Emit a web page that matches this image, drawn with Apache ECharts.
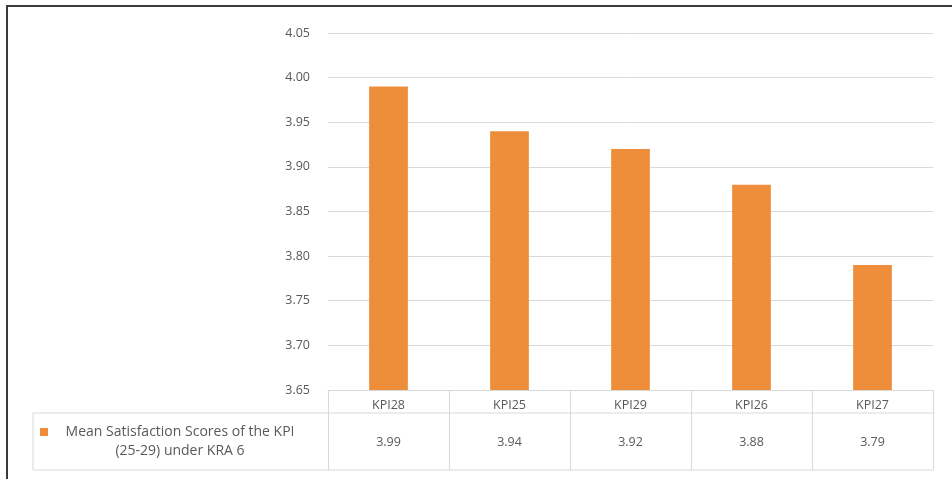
<!DOCTYPE html>
<html>
<head>
<meta charset="utf-8">
<script src="https://cdn.jsdelivr.net/npm/echarts@6/dist/echarts.min.js"></script>
<style>
  html, body { margin: 0; padding: 0; background: #fff; }
  #chart { width: 952px; height: 479px; }
</style>
</head>
<body>
<div id="chart"></div>
<script>
// KPI categories (sorted by score) and their mean satisfaction scores
const categories = ['KPI28', 'KPI25', 'KPI29', 'KPI26', 'KPI27'];
const scores = [3.99, 3.94, 3.92, 3.88, 3.79];
const seriesName = 'Mean Satisfaction Scores of the KPI (25-29) under KRA 6';
const legendLines = ['Mean Satisfaction Scores of the KPI', '(25-29) under KRA 6'];

// Layout of the plot area and the data table below it
const GRID = { left: 328, right: 19, top: 33, bottom: 89 };
const W = 952, H = 479;
const tableTop = H - GRID.bottom;      // header row top (x axis line)
const headerBottom = tableTop + 23;     // line between header and value rows
const tableBottom = tableTop + 80;      // bottom of value row
const legendCellLeft = 33;
const tableRight = W - GRID.right;

const textColor = '#595959';
const lineColor = '#d9d9d9';
const barColor = '#EE8E3B';
const font = 'Open Sans';

const chart = echarts.init(document.getElementById('chart'), null, { renderer: 'canvas' });

chart.setOption({
  backgroundColor: '#fff',
  animation: false,
  grid: { left: GRID.left, right: GRID.right, top: GRID.top, bottom: GRID.bottom, containLabel: false },
  xAxis: [
    {
      type: 'category',
      data: categories,
      position: 'bottom',
      boundaryGap: true,
      axisLine: { show: true, lineStyle: { color: lineColor, width: 1 } },
      axisTick: { show: true, length: tableBottom - tableTop, lineStyle: { color: lineColor } },
      axisLabel: { margin: 9, color: textColor, fontFamily: font, fontSize: 12.5 },
      splitLine: { show: false }
    },
    {
      type: 'category',
      data: categories,
      position: 'bottom',
      boundaryGap: true,
      axisLine: { show: false },
      axisTick: { show: false },
      axisLabel: {
        margin: 46,
        color: textColor,
        fontFamily: font,
        fontSize: 12.5,
        formatter: (v, i) => scores[i].toFixed(2)
      },
      splitLine: { show: false }
    }
  ],
  yAxis: {
    type: 'value',
    min: 3.65,
    max: 4.05,
    interval: 0.05,
    axisLine: { show: false },
    axisTick: { show: false },
    axisLabel: {
      margin: 18,
      color: textColor,
      fontFamily: font,
      fontSize: 12.5,
      formatter: v => v.toFixed(2)
    },
    splitLine: { show: true, lineStyle: { color: lineColor, width: 1 } }
  },
  series: [
    {
      name: seriesName,
      type: 'bar',
      data: scores,
      barWidth: '32%',
      itemStyle: { color: barColor },
      xAxisIndex: 0
    }
  ],
  graphic: [
    // outer frame
    {
      type: 'rect',
      shape: { x: 7, y: 6, width: W + 20, height: H + 20 },
      style: { fill: null, stroke: '#3a3a3a', lineWidth: 2 },
      silent: true
    },
    // table row divider and bottom border
    {
      type: 'line',
      shape: { x1: legendCellLeft, y1: headerBottom, x2: tableRight, y2: headerBottom },
      style: { stroke: lineColor, lineWidth: 1 }
    },
    {
      type: 'line',
      shape: { x1: legendCellLeft, y1: tableBottom, x2: tableRight, y2: tableBottom },
      style: { stroke: lineColor, lineWidth: 1 }
    },
    {
      type: 'line',
      shape: { x1: legendCellLeft, y1: headerBottom, x2: legendCellLeft, y2: tableBottom },
      style: { stroke: lineColor, lineWidth: 1 }
    },
    // legend key in the table's first column
    {
      type: 'rect',
      shape: { x: 40, y: 428, width: 8, height: 8 },
      style: { fill: barColor }
    },
    {
      type: 'text',
      x: 180,
      y: 442,
      style: {
        text: legendLines.join('\n'),
        fill: textColor,
        font: '14px "' + font + '"',
        align: 'center',
        verticalAlign: 'middle',
        lineHeight: 19
      }
    }
  ]
});
</script>
</body>
</html>
